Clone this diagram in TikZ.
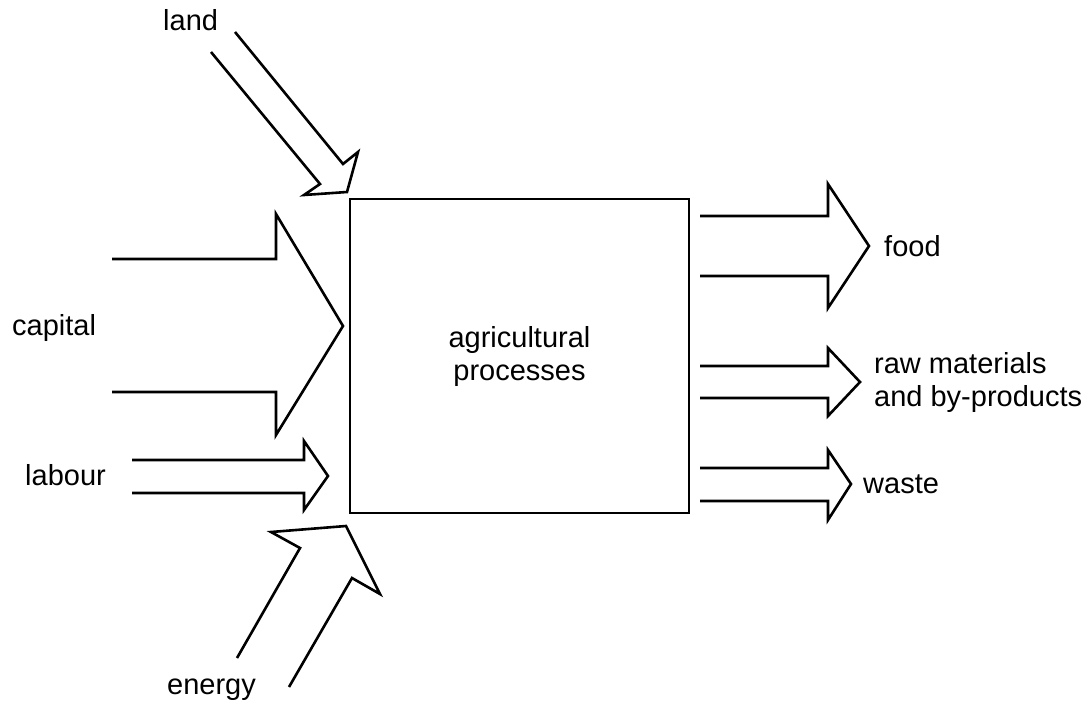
\documentclass[tikz,border=0pt]{standalone}
\usepackage{fontspec}
\setmainfont{Liberation Sans}
\begin{document}
\begin{tikzpicture}[x=1pt,y=-1pt,
  outline/.style={draw=black,line width=2.6pt,line join=miter,miter limit=10},
  lbl/.style={font=\fontsize{29}{33}\selectfont,inner sep=0pt,text=black,align=left}]
\useasboundingbox[fill=white] (0,0) rectangle (1092,709);
% central box
\node[outline,minimum width=339pt,minimum height=314pt,inner sep=0pt,
      lbl,align=center] (box) at (519.5,356) {agricultural\\processes};
% land arrow
\draw[outline] (211,52) -- (320,184) -- (304,195) -- (347,192) -- (358,152) -- (343,164) -- (235,32);
% capital arrow
\draw[outline] (112,259) -- (276,259) -- (276,214) -- (343,326) -- (276,435) -- (276,392) -- (112,392);
% labour arrow
\draw[outline] (132,460) -- (304,460) -- (304,441) -- (328,476) -- (304,510) -- (304,493) -- (132,493);
% energy arrow
\draw[outline] (237,658) -- (300,548) -- (271,532) -- (346,526) -- (380,594) -- (352,578) -- (289,687);
% food arrow
\draw[outline] (700,216) -- (828,216) -- (828,184) -- (869,246) -- (828,308) -- (828,276) -- (700,276);
% raw materials arrow
\draw[outline] (700,366) -- (828,366) -- (828,348) -- (860,382) -- (828,416) -- (828,398) -- (700,398);
% waste arrow
\draw[outline] (700,468) -- (828,468) -- (828,450) -- (851,484) -- (828,520) -- (828,501) -- (700,501);
% labels
\node[lbl,anchor=west] (land) at (163,20) {land};
\node[lbl,anchor=west] (capital) at (12,328) {capital};
\node[lbl,anchor=west] (labour) at (25,475) {labour};
\node[lbl,anchor=west] (energy) at (167,690) {energy};
\node[lbl,anchor=west] (food) at (884,246) {food};
\node[lbl,anchor=west] (raw) at (874,382) {raw materials\\and by-products};
\node[lbl,anchor=west] (waste) at (863,484) {waste};
\end{tikzpicture}
\end{document}
